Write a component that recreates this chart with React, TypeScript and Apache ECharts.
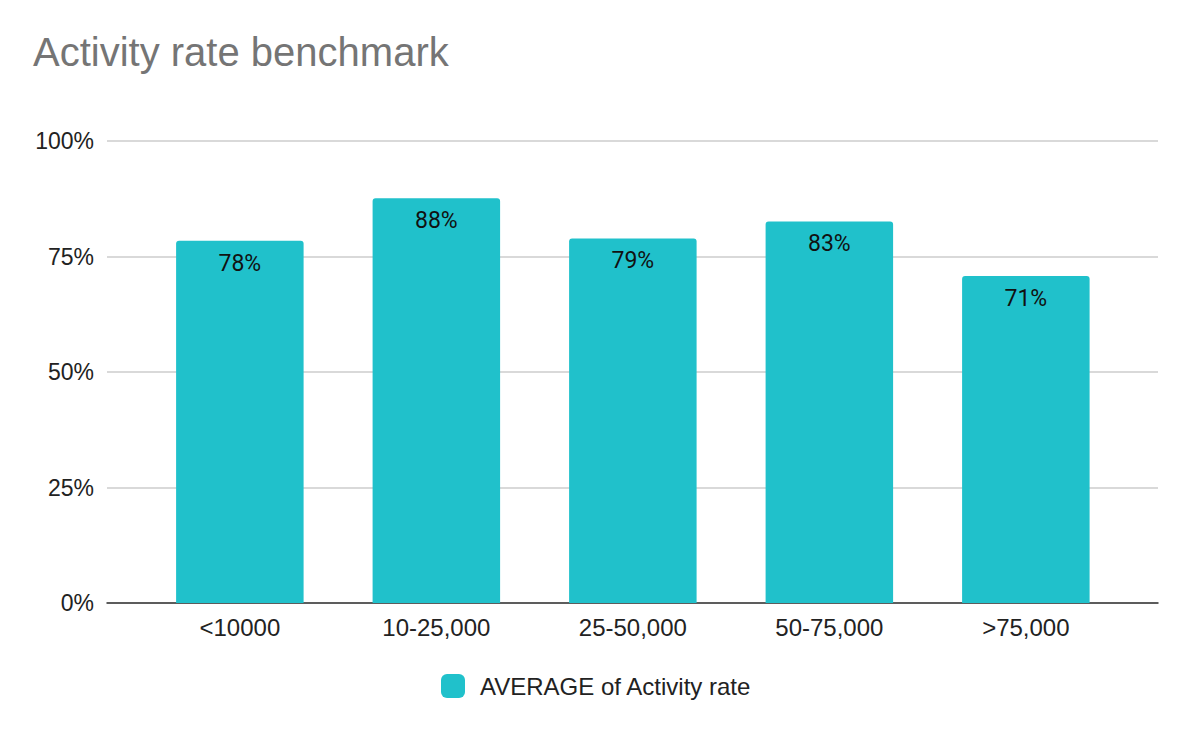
import React, { useEffect, useRef } from "react";
import * as echarts from "echarts";

const categories = ["<10000", "10-25,000", "25-50,000", "50-75,000", ">75,000"];
const activityRate = [0.784, 0.876, 0.789, 0.826, 0.708];
const yTicks = [0, 0.25, 0.5, 0.75, 1];
const seriesName = "AVERAGE of Activity rate";
const titleText = "Activity rate benchmark";

const SANS = "'Liberation Sans', Arial, Helvetica, sans-serif";
const BAR = "#20c1cb";

export default function App() {
  const ref = useRef<HTMLDivElement>(null);
  useEffect(() => {
    document.body.style.margin = "0";
    if (!ref.current) return;
    const chart = echarts.init(ref.current, null, { renderer: "svg" });
    const option: any = {
      animation: false,
      backgroundColor: "#ffffff",
      title: {
        text: titleText,
        left: 28,
        top: 27,
        textStyle: { fontFamily: SANS, fontSize: 40, fontWeight: "normal", color: "#757575" },
      },
      legend: {
        data: [seriesName],
        left: 441,
        top: 674,
        padding: 0,
        icon: "roundRect",
        itemWidth: 24,
        itemHeight: 24,
        textStyle: { fontFamily: SANS, fontSize: 24, color: "#222", padding: [0, 0, 0, 10] },
      },
      grid: [
        { left: 107, right: 36, top: 141, bottom: 133 },
        { left: 141.6, right: 69.9, top: 141, bottom: 133 },
      ],
      xAxis: [
        {
          gridIndex: 0,
          type: "value",
          min: 0,
          max: 1,
          axisLabel: { show: false },
          axisTick: { show: false },
          splitLine: { show: false },
          axisLine: { show: true, lineStyle: { color: "#333", width: 1.5 } },
        },
        {
          gridIndex: 1,
          type: "category",
          data: categories,
          axisLine: { show: false },
          axisTick: { show: false },
          axisLabel: { fontFamily: SANS, fontSize: 24, color: "#222", margin: 12 },
        },
      ],
      yAxis: [
        {
          gridIndex: 0,
          type: "value",
          min: yTicks[0],
          max: yTicks[yTicks.length - 1],
          interval: 0.25,
          axisLine: { show: false },
          axisTick: { show: false },
          axisLabel: {
            fontFamily: SANS,
            fontSize: 23,
            color: "#222",
            margin: 13,
            formatter: (v: number) => Math.round(v * 100) + "%",
          },
          splitLine: { show: true, lineStyle: { color: "#cccccc", width: 1.5 } },
        },
        {
          gridIndex: 1,
          type: "value",
          min: 0,
          max: 1,
          interval: 0.25,
          show: false,
          splitLine: { show: false },
        },
      ],
      series: [
        {
          name: seriesName,
          type: "bar",
          xAxisIndex: 1,
          yAxisIndex: 1,
          data: activityRate,
          barWidth: 127.5,
          itemStyle: { color: BAR, borderRadius: [3, 3, 0, 0] },
          label: {
            show: true,
            position: "insideTop",
            distance: 11,
            fontFamily: "Roboto, sans-serif",
            fontSize: 23,
            color: "#111",
            formatter: (p: any) => Math.round(p.value * 100) + "%",
          },
        },
      ],
    };
    chart.setOption(option);
    return () => chart.dispose();
  }, []);
  return <div ref={ref} style={{ width: 1194, height: 736 }} />;
}
